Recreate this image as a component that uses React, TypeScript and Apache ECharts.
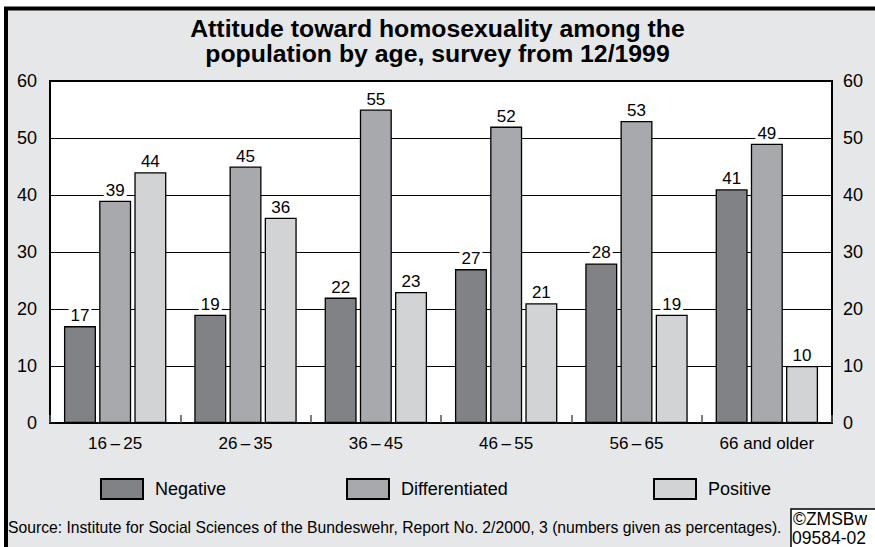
import React, { useEffect, useRef } from "react";
import * as echarts from "echarts";

const categories = ["16\u2009\u2013\u200925", "26\u2009\u2013\u200935", "36\u2009\u2013\u200945", "46\u2009\u2013\u200955", "56\u2009\u2013\u200965", "66 and older"];
const negative = [17, 19, 22, 27, 28, 41];
const differentiated = [39, 45, 55, 52, 53, 49];
const positive = [44, 36, 23, 21, 19, 10];
const seriesNames = ["Negative", "Differentiated", "Positive"];
const seriesColors = ["#808285", "#a7a9ac", "#d1d3d4"];
const titleLines = ["Attitude toward homosexuality among the", "population by age, survey from 12/1999"];
const sourceText = "Source: Institute for Social Sciences of the Bundeswehr, Report No. 2/2000, 3 (numbers given as percentages).";

const FONT = "Liberation Sans, Arial, Helvetica, sans-serif";

export default function App() {
  const ref = useRef<HTMLDivElement>(null);
  useEffect(() => {
    if (!ref.current) return;
    const chart = echarts.init(ref.current, undefined, { renderer: "svg" });
    const datasets = [negative, differentiated, positive];
    const legendLefts = [95, 341, 648];
    const option: any = {
      animation: false,
      backgroundColor: "#ffffff",
      textStyle: { fontFamily: FONT },
      title: titleLines.map((t, i) => ({
        text: t,
        left: "center",
        top: 16 + i * 25,
        padding: 0,
        textStyle: { fontFamily: FONT, fontSize: 24.8, fontWeight: "bold", color: "#000", lineHeight: 24 },
      })),
      legend: seriesNames.map((n, i) => ({
        data: [n],
        left: legendLefts[i],
        top: 473,
        icon: "rect",
        itemWidth: 42,
        itemHeight: 20,
        selectedMode: false,
        textStyle: { fontFamily: FONT, fontSize: 18, color: "#000", padding: [0, 0, 0, 7] },
      })),
      grid: {
        left: 50,
        right: 43,
        top: 81,
        bottom: 124,
        show: true,
        backgroundColor: "#ffffff",
        borderColor: "#000",
        borderWidth: 2,
      },
      xAxis: {
        type: "category",
        data: categories,
        axisLine: { show: true, lineStyle: { color: "#000", width: 2 } },
        axisTick: { show: true, inside: true, length: 8, lineStyle: { color: "#555", width: 1.5 } },
        axisLabel: { fontFamily: FONT, fontSize: 17, color: "#000", margin: 12 },
        z: 5,
      },
      yAxis: [
        {
          type: "value",
          min: 0,
          max: 60,
          interval: 10,
          position: "left",
          axisLine: { show: false },
          axisTick: { show: false },
          axisLabel: { fontFamily: FONT, fontSize: 18, color: "#000", margin: 13 },
          splitLine: { show: true, lineStyle: { color: "#000", width: 1 } },
        },
        {
          type: "value",
          min: 0,
          max: 60,
          interval: 10,
          position: "right",
          axisLine: { show: false },
          axisTick: { show: false },
          axisLabel: { fontFamily: FONT, fontSize: 18, color: "#000", margin: 11 },
          splitLine: { show: false },
        },
      ],
      series: seriesNames.map((n, i) => ({
        name: n,
        type: "bar",
        data: datasets[i],
        barWidth: 32,
        barGap: "10%",
        itemStyle: { color: seriesColors[i], borderColor: "#000", borderWidth: 1.3 },
        label: {
          show: true,
          position: "top",
          distance: 2,
          fontFamily: FONT,
          fontSize: 17,
          color: "#000",
          backgroundColor: "#ffffff",
          padding: [0, 2, 0, 2],
        },
      })),
      graphic: [
        {
          type: "rect",
          z: -10,
          silent: true,
          shape: { x: 6, y: 8.5, width: 900, height: 600 },
          style: { fill: "#e6e7e8", stroke: "#000", lineWidth: 4 },
        },
        {
          type: "text",
          x: 8,
          y: 527,
          style: { text: sourceText, fontFamily: FONT, fontSize: 15.7, fill: "#000", verticalAlign: "middle" },
        },
        {
          type: "rect",
          shape: { x: 791, y: 509, width: 90, height: 45 },
          style: { fill: "#ffffff", stroke: "#000", lineWidth: 1.5 },
        },
        {
          type: "text",
          x: 793,
          y: 519,
          style: { text: "\u00a9ZMSBw", fontFamily: FONT, fontSize: 17.5, fill: "#000", verticalAlign: "middle" },
        },
        {
          type: "text",
          x: 792,
          y: 537.5,
          style: { text: "09584-02", fontFamily: FONT, fontSize: 17.5, fill: "#000", verticalAlign: "middle" },
        },
      ],
    };
    chart.setOption(option);
    return () => chart.dispose();
  }, []);
  return <div ref={ref} style={{ position: "fixed", left: 0, top: 0, width: 875, height: 547 }} />;
}
